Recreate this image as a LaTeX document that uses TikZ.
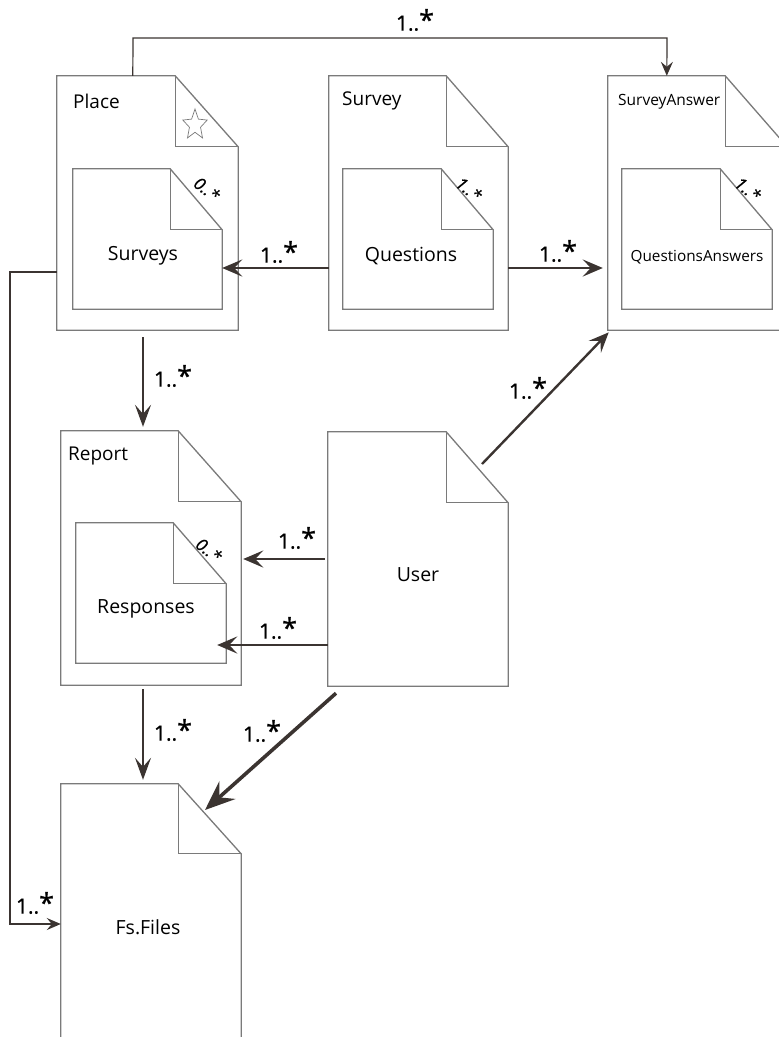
\documentclass[tikz,border=0pt]{standalone}
\usepackage{fontspec}
\setmainfont{Open Sans}
\newfontfamily\multfont[FakeBold=0.8]{Open Sans}
\usetikzlibrary{arrows.meta,shapes.geometric}
\definecolor{boxgray}{HTML}{7A7A7A}
\definecolor{arrowdark}{HTML}{3B3431}
\tikzset{
  docnode/.style={draw=none, inner sep=0pt, minimum width=#1},
  boxline/.style={draw=boxgray, line width=1.3pt, fill=white},
  foldline/.style={draw=boxgray, line width=1.1pt},
  bigarrow/.style={draw=arrowdark, line width=2.8pt, -{Stealth[length=20pt,width=17pt,inset=8pt]}},
  midarrow/.style={draw=arrowdark, line width=2pt, -{Stealth[length=22pt,width=16pt,inset=9pt]}},
  thinarrow/.style={draw=arrowdark, line width=1.2pt, -{Stealth[length=14pt,width=12pt,inset=5pt]}},
  mult/.style={font=\multfont\fontsize{21}{21}\selectfont, text=black, inner sep=0pt},
  foldmult/.style={font=\multfont\fontsize{17}{17}\selectfont\itshape, text=black, inner sep=0pt, rotate=-38},
  title/.style={font=\fontsize{19}{19}\selectfont, text=black, inner sep=0pt, anchor=west},
  inner/.style={font=\fontsize{19.5}{19.5}\selectfont, text=black, inner sep=0pt},
}
\newcommand\mystar{1..{\fontsize{27}{27}\selectfont\raisebox{1pt}{*}}}
% #1 name, #2 fold dx, #3 fold dy
\newcommand\docbox[3]{%
  \path[boxline] (#1.north west) -- ([xshift=-#2]#1.north east) -- ([yshift=-#3]#1.north east)
    -- (#1.south east) -- (#1.south west) -- cycle;
  \draw[foldline] ([xshift=-#2]#1.north east) -- ([xshift=-#2,yshift=-#3]#1.north east)
    -- ([yshift=-#3]#1.north east);
}
\begin{document}
\begin{tikzpicture}[x=1pt,y=-1pt]
\useasboundingbox (0,0) rectangle (779,1037);
\begin{scope}
\clip (0,0) rectangle (779,1037);
% outer boxes
\node[docnode=181, minimum height=254] (place) at (147.5,203) {};
\node[docnode=179, minimum height=254] (survey) at (418.5,203) {};
\node[docnode=179, minimum height=254] (sanswer) at (697.5,203) {};
\node[docnode=180, minimum height=254] (report) at (151,558) {};
\node[docnode=180, minimum height=254] (user) at (418,559) {};
\node[docnode=180, minimum height=254] (files) at (151,911) {};
\docbox{place}{63pt}{71pt}
\docbox{survey}{62pt}{71pt}
\docbox{sanswer}{62pt}{71pt}
\docbox{report}{63pt}{71pt}
\docbox{user}{62pt}{71pt}
\docbox{files}{63pt}{70pt}
% inner boxes
\node[docnode=149, minimum height=140] (surveys) at (147.5,239) {};
\node[docnode=150, minimum height=140] (questions) at (418,239) {};
\node[docnode=150, minimum height=140] (qanswers) at (697,239) {};
\node[docnode=150, minimum height=140] (responses) at (151,593) {};
\docbox{surveys}{52pt}{61pt}
\docbox{questions}{52pt}{61pt}
\docbox{qanswers}{52pt}{61pt}
\docbox{responses}{53pt}{61pt}
\end{scope}
% titles
\node[title] (tplace) at (73,101) {Place};
\node[title] (tsurvey) at (342,101) {Survey};
\node[title, font=\fontsize{15.5}{15.5}\selectfont] (tsanswer) at (618,102) {SurveyAnswer};
\node[title] (treport) at (68,456) {Report};
% star
\node[star, star points=5, star point ratio=2.2, draw=boxgray, line width=0.7pt, minimum size=32pt, inner sep=0pt, xscale=0.8, transform shape] (star) at (195,125) {};
% inner labels
\node[inner] (lsurveys) at (143,256) {Surveys};
\node[inner] (lquestions) at (411,256) {Questions};
\node[inner, font=\fontsize{15.3}{15.3}\selectfont] (lqanswers) at (697,257) {QuestionsAnswers};
\node[inner] (lresponses) at (146,609) {Responses};
\node[inner] (luser) at (418,575) {User};
\node[inner] (lfiles) at (148,927) {Fs.Files};
% fold multiplicities
\node[foldmult] (m1) at (207,189) {0..*};
\node[foldmult] (m2) at (469,189) {1..*};
\node[foldmult] (m3) at (748,189) {1..*};
\node[foldmult] (m4) at (209,550) {0..*};
% connectors
\coordinate (ptop1) at (133,38);
\coordinate (ptop2) at (667,38);
\draw[thinarrow] ([xshift=76pt]place.north west) -- (ptop1) -- (ptop2) -- ([xshift=59pt]sanswer.north west);
\node[mult] (l1) at (415,20) {\mystar};

\draw[bigarrow] ([yshift=-65pt]survey.west) -- ([yshift=-29pt]surveys.east);
\node[mult] (l2) at (279,252) {\mystar};
\draw[bigarrow, shorten >=5pt] ([yshift=-65pt]survey.east) -- ([yshift=-65pt]sanswer.west);
\node[mult] (l3) at (558,251) {\mystar};

\draw[midarrow, shorten <=7pt, shorten >=4pt] ([xshift=-4.5pt]place.south) -- ([xshift=-8pt]report.north);
\node[mult] (l4) at (173,376) {\mystar};

\draw[bigarrow, shorten <=3pt, shorten >=2pt] (user.west) -- (report.east |- user.west);
\node[mult] (l5) at (297,538) {\mystar};
\coordinate (u2) at ([yshift=-86pt]user.west);
\draw[bigarrow, shorten >=-9pt] (u2) -- (responses.east |- u2);
\node[mult] (l6) at (278,628) {\mystar};

\coordinate (ustart) at (482,464);
\draw[bigarrow, line width=2.4pt, shorten >=3pt] (ustart) -- ([xshift=3pt]sanswer.south west);
\node[mult] (l7) at (528,388) {\mystar};

\coordinate (ufold) at (205,810);
\draw[bigarrow, line width=3.6pt, -{Stealth[length=30pt,width=24pt,inset=11pt]}] ([xshift=-82pt,yshift=-7pt]user.south) -- (ufold);
\node[mult] (l8) at (262,731) {\mystar};

\draw[midarrow, shorten <=4pt, shorten >=4pt] ([xshift=-8pt]report.south) -- ([xshift=-8pt]files.north);
\node[mult] (l9) at (173,730) {\mystar};

\coordinate (lc1) at (10,272);
\coordinate (lc2) at (10,924);
\draw[thinarrow, line width=1.5pt] ([yshift=-69pt]place.west) -- (lc1) -- (lc2) -- (files.west |- lc2);
\node[mult] (l10) at (35,903) {\mystar};
\end{tikzpicture}
\end{document}
